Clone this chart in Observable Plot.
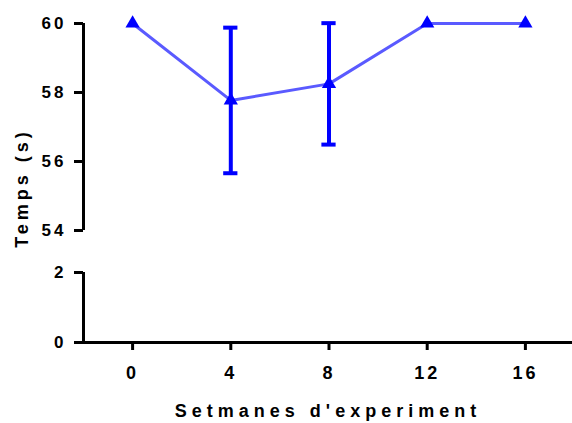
<!DOCTYPE html>
<html><head><meta charset="utf-8">
<script src="https://cdn.jsdelivr.net/npm/d3@7"></script>
<script src="https://cdn.jsdelivr.net/npm/@observablehq/plot@0.6"></script>
<style>
body{margin:0;background:#fff}
#chart{position:relative;width:572px;height:423px}
#chart svg{display:block;overflow:visible}
#chart [aria-label="x-axis label"] text{letter-spacing:5px}
#chart [aria-label="text"] text{letter-spacing:4px}
</style>
</head><body><div id="chart"></div>
<script>
const weeks = [0, 4, 8, 12, 16];
const temps = [60, 57.77, 58.25, 60, 60];
const errors = [0, 2.11, 1.76, 0, 0];
const xTicks = [0, 4, 8, 12, 16];
const yTicksTop = [54, 56, 58, 60];
const yTicksBottom = [0, 2];
const yDomainTop = [54, 60];
const yDomainBottom = [0, 2];
const xLabel = "Setmanes d'experiment";
const yLabel = "Temps (s)";

const data = weeks.map((w, i) => ({w, t: temps[i], lo: temps[i] - errors[i], hi: temps[i] + errors[i]}));
const errs = data.filter(d => d.hi > d.lo);
const capHalf = 0.29;
const font = "'Liberation Sans', Arial, sans-serif";
const xDomain = [-2, 18];
const xRange = [83, 574];

const topChart = Plot.plot({
  width: 572, height: 250,
  marginLeft: 83, marginRight: 0, marginTop: 23, marginBottom: 20,
  style: {fontFamily: font, fontWeight: "bold", fontSize: "17px", color: "black", letterSpacing: "3px", overflow: "visible"},
  x: {domain: xDomain, range: xRange, axis: null},
  y: {domain: yDomainTop, axis: null},
  marks: [
    Plot.ruleX([yDomainTop], {x: -2, y1: d => d[0], y2: d => d[1], stroke: "black", strokeWidth: 3}),
    Plot.axisY({ticks: yTicksTop, tickFormat: "d", tickSize: 9, strokeWidth: 3, tickPadding: 8, label: null, fontSize: 17}),
    Plot.text([yLabel], {frameAnchor: "left", textAnchor: "middle", rotate: -90, dx: -61, dy: 61, fontSize: 18, text: d => d}),
    Plot.line(data, {x: "w", y: "t", stroke: "#5a5aff", strokeWidth: 3}),
    Plot.ruleX(errs, {x: "w", y1: "lo", y2: "hi", stroke: "#0000ff", strokeWidth: 4}),
    Plot.ruleY(errs, {y: "hi", x1: d => d.w - capHalf, x2: d => d.w + capHalf, stroke: "#0000ff", strokeWidth: 4}),
    Plot.ruleY(errs, {y: "lo", x1: d => d.w - capHalf, x2: d => d.w + capHalf, stroke: "#0000ff", strokeWidth: 4}),
    Plot.dot(data, {x: "w", y: "t", symbol: "triangle", r: 5.3, fill: "#0000ff", stroke: null})
  ]
});

const bottomChart = Plot.plot({
  width: 572, height: 173,
  marginLeft: 83, marginRight: 0, marginTop: 22, marginBottom: 81,
  style: {fontFamily: font, fontWeight: "bold", fontSize: "17px", color: "black", letterSpacing: "3px", overflow: "visible"},
  x: {domain: xDomain, range: xRange},
  y: {domain: yDomainBottom},
  marks: [
    Plot.ruleX([yDomainBottom], {x: -2, y1: d => d[0], y2: d => d[1], stroke: "black", strokeWidth: 3}),
    Plot.ruleY([0], {x1: -2, x2: 18, stroke: "black", strokeWidth: 3}),
    Plot.axisY({ticks: yTicksBottom, tickFormat: "d", tickSize: 9, strokeWidth: 3, tickPadding: 8, label: null, fontSize: 17}),
    Plot.axisX({ticks: xTicks, tickFormat: "d", tickSize: 8, strokeWidth: 3, tickPadding: 16, label: xLabel, labelAnchor: "center", labelOffset: 74, labelArrow: "none", fontSize: 18})
  ]
});

document.getElementById("chart").append(topChart, bottomChart);
</script>
</body></html>
